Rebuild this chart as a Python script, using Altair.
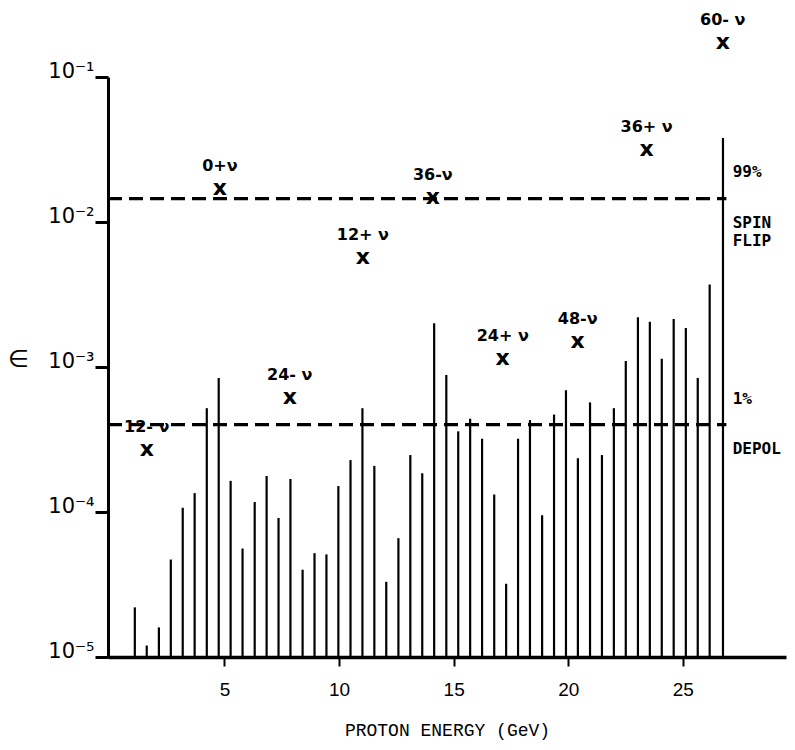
import altair as alt
import pandas as pd

# Depolarizing resonance strengths (imperfection resonances, G*gamma = integer)
bar_energy = [1.09, 1.61, 2.14, 2.66, 3.18, 3.70, 4.23, 4.75, 5.27, 5.79,
              6.32, 6.84, 7.36, 7.88, 8.41, 8.93, 9.45, 9.97, 10.50, 11.02,
              11.54, 12.06, 12.59, 13.11, 13.63, 14.15, 14.68, 15.20, 15.72, 16.24,
              16.77, 17.29, 17.81, 18.33, 18.86, 19.38, 19.90, 20.42, 20.95, 21.47,
              21.99, 22.51, 23.04, 23.56, 24.08, 24.60, 25.13, 25.65, 26.17, 26.75]
bar_eps = [2.2e-5, 1.2e-5, 1.6e-5, 4.7e-5, 1.07e-4, 1.35e-4, 5.2e-4, 8.4e-4, 1.64e-4, 5.6e-5,
           1.17e-4, 1.77e-4, 9.1e-5, 1.69e-4, 4.0e-5, 5.2e-5, 5.1e-5, 1.51e-4, 2.28e-4, 5.2e-4,
           2.08e-4, 3.3e-5, 6.6e-5, 2.47e-4, 1.85e-4, 2.0e-3, 8.8e-4, 3.6e-4, 4.4e-4, 3.2e-4,
           1.32e-4, 3.2e-5, 3.2e-4, 4.3e-4, 9.5e-5, 4.7e-4, 6.9e-4, 2.35e-4, 5.7e-4, 2.47e-4,
           5.2e-4, 1.1e-3, 2.2e-3, 2.05e-3, 1.14e-3, 2.14e-3, 1.86e-3, 8.4e-4, 3.7e-3, 3.8e-2]

# Intrinsic resonances (X markers)
res_label = ["12- ν", "0+ν", "24- ν", "12+ ν", "36-ν", "24+ ν", "48-ν", "36+ ν", "60- ν"]
res_energy = [1.61, 4.80, 7.85, 11.04, 14.09, 17.14, 20.41, 23.42, 26.74]
res_eps = [2.7e-4, 1.72e-2, 6.2e-4, 5.7e-3, 1.49e-2, 1.15e-3, 1.51e-3, 3.2e-2, 0.175]

# Reference levels
level_eps = [1.45e-2, 4.0e-4]
level_end = 26.9
upper_above = ["99%"]
upper_below = ["SPIN", "FLIP"]
lower_above = ["1%"]
lower_below = ["DEPOL"]

x_ticks = [5, 10, 15, 20, 25]
y_ticks = [1e-5, 1e-4, 1e-3, 1e-2, 1e-1]

bars = pd.DataFrame({"E": bar_energy, "eps": bar_eps, "base": [1e-5] * len(bar_energy)})
res = pd.DataFrame({"E": res_energy, "eps": res_eps, "label": res_label})
levels = pd.DataFrame({"eps": level_eps, "x0": [-0.08] * 2, "x1": [level_end] * 2})

xscale = alt.Scale(domain=[-0.08, 29.5], nice=False, zero=False)
yscale = alt.Scale(type="log", domain=[1e-5, 1e-1], nice=False)

label_expr = ("datum.value >= 0.09 ? '10⁻¹' : datum.value >= 0.009 ? '10⁻²' : "
              "datum.value >= 0.0009 ? '10⁻³' : datum.value >= 0.00009 ? '10⁻⁴' : '10⁻⁵'")

xaxis = alt.Axis(values=x_ticks, title="PROTON ENERGY (GeV)", grid=False,
                 domainColor="black", domainWidth=3.5, tickColor="black", tickWidth=2,
                 tickSize=9, labelFont="Liberation Sans", labelFontSize=19,
                 labelColor="black", labelPadding=14,
                 titleFont="Liberation Mono", titleFontSize=18, titleFontWeight="normal",
                 titleColor="black", titlePadding=22)
yaxis = alt.Axis(values=y_ticks, title=None, grid=False, labelExpr=label_expr,
                 domainColor="black", domainWidth=3, tickColor="black", tickWidth=3,
                 tickSize=13, labelFont="DejaVu Sans", labelFontSize=21,
                 labelColor="black", labelPadding=1, labelBaseline="alphabetic")

bar_layer = alt.Chart(bars).mark_rule(color="black", strokeWidth=2.2).encode(
    x=alt.X("E:Q", scale=xscale, axis=xaxis),
    y=alt.Y("eps:Q", scale=yscale, axis=yaxis),
    y2="base:Q",
)

level_layer = alt.Chart(levels).mark_rule(color="black", strokeWidth=3.2,
                                          strokeDash=[14, 7]).encode(
    x="x0:Q", x2="x1:Q", y="eps:Q"
)

marker_layer = alt.Chart(res).mark_text(text="x", font="DejaVu Sans", fontSize=22,
                                        fontWeight="bold", color="black",
                                        baseline="middle", align="center").encode(
    x="E:Q", y="eps:Q"
)

res_text = alt.Chart(res).mark_text(font="DejaVu Sans", fontSize=16, fontWeight="bold",
                                    color="black", baseline="middle", align="center",
                                    dy=-22).encode(
    x="E:Q", y="eps:Q", text="label:N"
)


def side_text(txt, eps, dy):
    df = pd.DataFrame({"txt": [txt], "eps": [eps]})
    return alt.Chart(df).mark_text(font="DejaVu Sans Mono", fontSize=16,
                                   fontWeight="bold", color="black", align="left",
                                   baseline="middle", dx=4, dy=dy).encode(
        x=alt.datum(27.0), y="eps:Q", text="txt:N"
    )


right_layers = [
    side_text(upper_above[0], level_eps[0], -27),
    side_text(upper_below[0], level_eps[0], 24),
    side_text(upper_below[1], level_eps[0], 42),
    side_text(lower_above[0], level_eps[1], -26),
    side_text(lower_below[0], level_eps[1], 24),
]

eps_title = alt.Chart(pd.DataFrame({"t": ["∈"], "eps": [1e-3]})).mark_text(
    font="DejaVu Sans", fontSize=24, color="black", align="left", baseline="alphabetic"
).encode(x=alt.value(-100), y="eps:Q", text="t:N")

chart = alt.layer(bar_layer, level_layer, marker_layer, res_text, *right_layers,
                  eps_title).properties(
    width=678, height=580,
    background="white",
    autosize=alt.AutoSizeParams(type="none"),
    padding={"left": 100, "top": 69, "right": 1, "bottom": 85},
).configure_view(strokeWidth=0, stroke=None)

chart.save("out.html", embed_options={"renderer": "svg", "actions": False})
